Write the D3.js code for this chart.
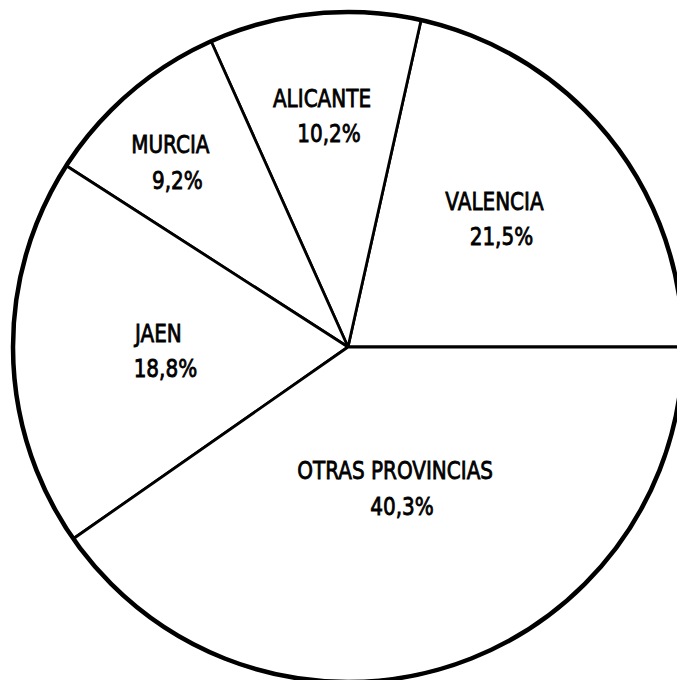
<!DOCTYPE html>
<html>
<head>
<meta charset="utf-8">
<script src="https://cdn.jsdelivr.net/npm/d3@7"></script>
<style>
  html, body { margin: 0; padding: 0; background: #fff; }
  svg { display: block; }
</style>
</head>
<body>
<div id="pie"></div>
<script>
// Provinces and their share (%), in drawing order (counter-clockwise from 3 o'clock)
let provinces = ["VALENCIA", "ALICANTE", "MURCIA", "JAEN", "OTRAS PROVINCIAS"];
let shares = [21.5, 10.2, 9.2, 18.8, 40.3];
let shareLabels = ["21,5%", "10,2%", "9,2%", "18,8%", "40,3%"];

// label placement: [distance from centre, extra turn in degrees (counter-clockwise)]
let labelPlace = {
    "VALENCIA": [189, 0.5],
    "ALICANTE": [224, 0.9],
    "MURCIA": [250, 4.6],
    "JAEN": [190, 2.7],
    "OTRAS PROVINCIAS": [157, 0]
};

let width = 677, height = 680;
let cx = 348, cy = 347, radius = 335;

let svg = d3.select("#pie")
    .append("svg")
    .attr("width", width)
    .attr("height", height)
    .append("g")
    .attr("transform", "translate(" + cx + "," + cy + ")");

let data = provinces.map(function(p, i) { return {name: p, value: shares[i], label: shareLabels[i]}; });

// start at 3 o'clock and go counter-clockwise
let pie = d3.pie()
    .sort(null)
    .value(function(d) { return d.value; })
    .startAngle(Math.PI / 2)
    .endAngle(Math.PI / 2 - 2 * Math.PI);

let arcs = pie(data);

let arc = d3.arc().innerRadius(0).outerRadius(radius);

svg.selectAll("path.slice")
    .data(arcs)
    .enter()
    .append("path")
    .attr("class", "slice")
    .attr("d", arc)
    .attr("fill", "#fff")
    .attr("stroke", "#000")
    .attr("stroke-width", 2.8)
    .attr("stroke-linejoin", "round");

// thicker outer rim
svg.append("circle")
    .attr("r", radius)
    .attr("fill", "none")
    .attr("stroke", "#000")
    .attr("stroke-width", 4.5);

let labels = svg.selectAll("g.label")
    .data(arcs)
    .enter()
    .append("g")
    .attr("class", "label")
    .attr("transform", function(d) {
        let p = labelPlace[d.data.name];
        let a = (d.startAngle + d.endAngle) / 2 - p[1] * Math.PI / 180;
        return "translate(" + (p[0] * Math.sin(a)) + "," + (-p[0] * Math.cos(a)) + ") scale(0.87,1.05)";
    })
    .style("font-family", "'DejaVu Sans', sans-serif")
    .style("font-size", "23px")
    .attr("fill", "#000")
    .attr("stroke", "#000")
    .attr("stroke-width", 0.8)
    .attr("text-anchor", "middle");

labels.append("text")
    .attr("y", -17)
    .text(function(d) { return d.data.name; });

labels.append("text")
    .attr("y", 17)
    .attr("x", 8)
    .text(function(d) { return d.data.label; });
</script>
</body>
</html>
